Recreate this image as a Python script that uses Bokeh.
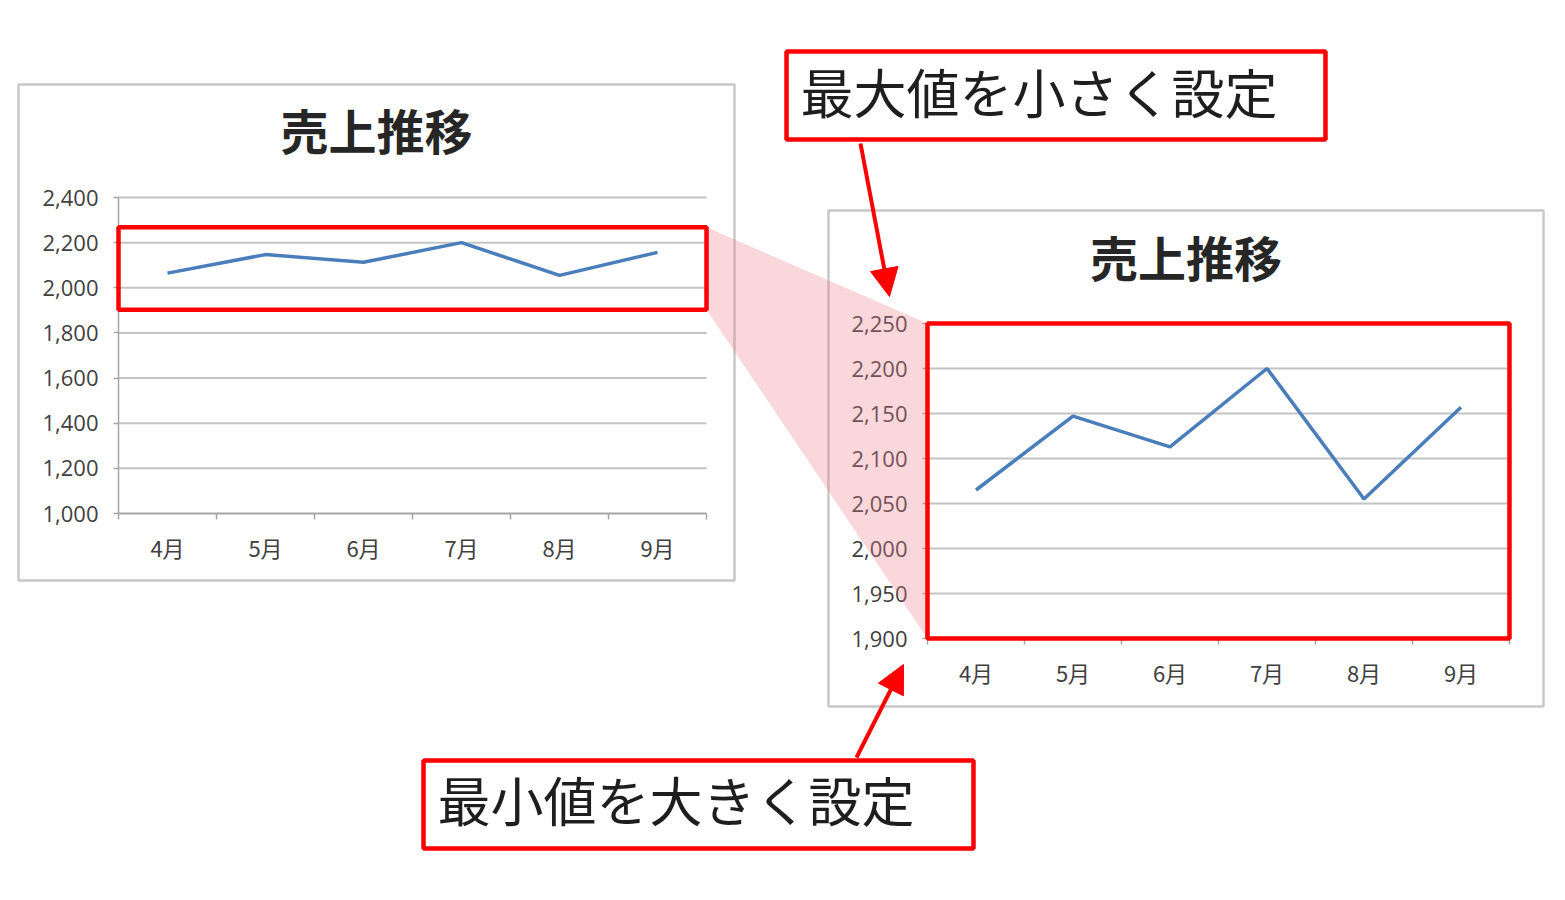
import numpy as np
from bokeh.plotting import figure
from bokeh.models import (Range1d, LinearAxis, FixedTicker, NumeralTickFormatter,
                          CustomJSTickFormatter, Arrow, NormalHead, ColumnDataSource)
from bokeh.core.properties import value
from bokeh.embed import file_html
from bokeh.resources import INLINE

# ---------------- data ----------------
months = ["4月", "5月", "6月", "7月", "8月", "9月"]
sales = [2065, 2147, 2113, 2200, 2055, 2157]
chart_title = "売上推移"
left_ticks = [1000, 1200, 1400, 1600, 1800, 2000, 2200, 2400]
right_ticks = [1900, 1950, 2000, 2050, 2100, 2150, 2200, 2250]
note_max = "最大値を小さく設定"
note_min = "最小値を大きく設定"
highlight_lo, highlight_hi = 1903, 2268   # band marked on the left chart

# ---------------- layout (page pixel coordinates) ----------------
W, H = 1549, 884
M = 0
charts = {
    "L": dict(border=(18, 84, 734, 580), plot=(118, 197, 706, 513), title_y=128, ticks=left_ticks),
    "R": dict(border=(828, 210, 1543, 706), plot=(927, 323, 1509, 638), title_y=255, ticks=right_ticks),
}
note_boxes = [
    dict(box=(786, 51, 1325, 139), text=note_max, tx=800, ty=90,
         arrow=((860, 143), (889, 296))),
    dict(box=(423, 760, 973, 848), text=note_min, tx=437, ty=798,
         arrow=((856, 757), (903, 664))),
]

RED = "#FF0000"
AXIS_GRAY = "#A6A6A6"
GRID_GRAY = "#C4C4C4"
LINE_BLUE = "#4A7EBB"
CJK = "Noto Sans CJK JP"

p = figure(width=W, height=H, x_range=Range1d(M, M + W), y_range=Range1d(M + H, M),
           x_axis_type=None, y_axis_type=None, toolbar_location=None,
           output_backend="svg", min_border=0, outline_line_color=None,
           background_fill_color="white")

n = len(months)
xs = np.arange(n) + 0.5
ex_x, ex_y = {}, {}
for k, c in charts.items():
    x0, y0, x1, y1 = c["plot"]
    ticks = c["ticks"]
    vmin, vmax = ticks[0], ticks[-1]
    dx = n / (x1 - x0)
    dy = (vmax - vmin) / (y1 - y0)
    ex_x[k] = Range1d(0 - (x0 - M) * dx, n + (M + W - x1) * dx)
    ex_y[k] = Range1d(vmin - (M + H - y1) * dy, vmax + (y0 - M) * dy)
p.extra_x_ranges = ex_x
p.extra_y_ranges = ex_y


def to_screen(k, x, y):
    xr, yr = ex_x[k], ex_y[k]
    sx = M + (x - xr.start) / (xr.end - xr.start) * W
    sy = M + H - (y - yr.start) / (yr.end - yr.start) * H
    return sx, sy


for k, c in charts.items():
    bx0, by0, bx1, by1 = c["border"]
    ticks = c["ticks"]
    vmin, vmax = ticks[0], ticks[-1]
    # chart area
    p.quad(left=[bx0], right=[bx1], top=[by0], bottom=[by1], fill_color="white",
           line_color="#C8C8C8", line_width=2.5)
    p.text(x=[(bx0 + bx1) / 2], y=[c["title_y"]], text=[chart_title],
           text_font=value(CJK), text_font_style="bold", text_font_size="48px",
           text_align="center", text_baseline="middle", text_color="#262626")
    # gridlines
    p.segment(x0=[0] * len(ticks), x1=[n] * len(ticks), y0=ticks, y1=ticks,
              x_range_name=k, y_range_name=k, line_color=GRID_GRAY, line_width=2)
    # value axis
    ya = LinearAxis(x_range_name=k, y_range_name=k, fixed_location=0, bounds=(vmin, vmax),
                    ticker=FixedTicker(ticks=ticks, minor_ticks=[]),
                    formatter=NumeralTickFormatter(format="0,0"),
                    axis_line_color=AXIS_GRAY, axis_line_width=1.5,
                    major_tick_line_color=AXIS_GRAY, major_tick_line_width=1.5,
                    major_tick_out=5, major_tick_in=0, minor_tick_line_color=None,
                    major_label_text_font="Open Sans", major_label_text_font_size="22px",
                    major_label_text_color="#404040", major_label_standoff=15)
    p.add_layout(ya, "left")
    # category axis
    xa = LinearAxis(x_range_name=k, y_range_name=k, fixed_location=vmin, bounds=(0, n),
                    ticker=FixedTicker(ticks=list(xs), minor_ticks=list(range(n + 1))),
                    formatter=CustomJSTickFormatter(args=dict(labels=months),
                                                    code="return labels[Math.floor(tick)]"),
                    axis_line_color=AXIS_GRAY, axis_line_width=1.5,
                    major_tick_line_color=None, major_tick_out=0, major_tick_in=0,
                    minor_tick_line_color=AXIS_GRAY, minor_tick_line_width=1.5,
                    minor_tick_out=6, minor_tick_in=0,
                    major_label_text_font=CJK, major_label_text_font_size="22px",
                    major_label_text_color="#404040", major_label_standoff=11)
    p.add_layout(xa, "below")
    # series
    src = ColumnDataSource(dict(x=xs, y=sales))
    p.line("x", "y", source=src, x_range_name=k, y_range_name=k,
           line_color=LINE_BLUE, line_width=3.5)

# pink zoom connector between the two marked regions
lt = to_screen("L", n, highlight_hi)
lb = to_screen("L", n, highlight_lo)
rt = to_screen("R", 0, right_ticks[-1])
rb = to_screen("R", 0, right_ticks[0])
p.patch(x=[lt[0], rt[0], rb[0], lb[0]], y=[lt[1], rt[1], rb[1], lb[1]],
        fill_color="#F07A88", fill_alpha=0.3, line_color=None, level="overlay")

# red highlight boxes
p.quad(left=[0], right=[n], bottom=[highlight_lo], top=[highlight_hi],
       x_range_name="L", y_range_name="L", fill_color=None,
       line_color=RED, line_width=4.5, level="overlay")
p.quad(left=[0], right=[n], bottom=[right_ticks[0]], top=[right_ticks[-1]],
       x_range_name="R", y_range_name="R", fill_color=None,
       line_color=RED, line_width=4.5, level="overlay")

# notes with arrows
for nb in note_boxes:
    x0, y0, x1, y1 = nb["box"]
    p.quad(left=[x0], right=[x1], top=[y0], bottom=[y1], fill_color="white",
           line_color=RED, line_width=4.5, level="overlay")
    p.text(x=[nb["tx"]], y=[nb["ty"]], text=[nb["text"]], text_font=value(CJK),
           text_font_size="53px", text_align="left", text_baseline="middle",
           text_color="#1E1E1E", level="overlay")
    (sx, sy), (exx, eyy) = nb["arrow"]
    p.add_layout(Arrow(x_start=sx, y_start=sy, x_end=exx, y_end=eyy,
                       line_color=RED, line_width=4,
                       end=NormalHead(size=28, fill_color=RED, line_color=RED)))

open("out.html", "w").write(file_html(p, INLINE))
